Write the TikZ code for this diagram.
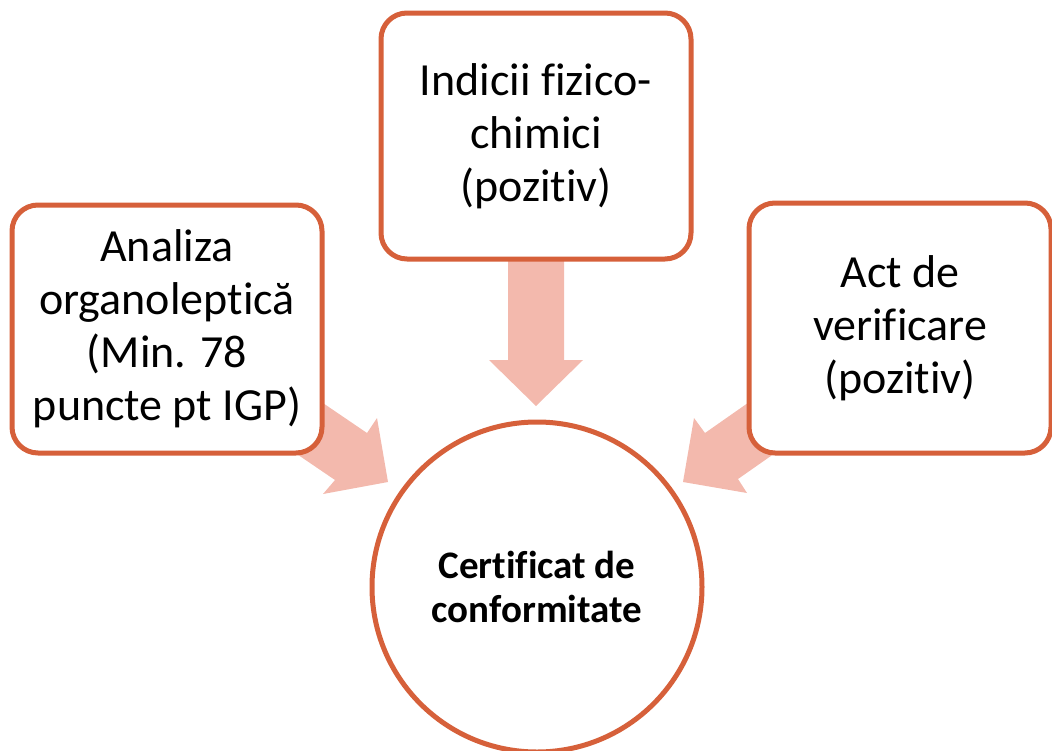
\documentclass[tikz,border=0pt]{standalone}
\usepackage{fontspec}
\setmainfont{Carlito}[Ligatures=NoCommon]
\definecolor{edge}{RGB}{214,96,58}
\definecolor{arrowfill}{RGB}{243,185,173}
\tikzset{
  boxnode/.style={draw=edge, line width=5pt, fill=white, rounded corners=26pt,
    align=center, inner sep=0pt, font=\fontsize{46}{53}\selectfont},
  hubnode/.style={draw=edge, line width=5pt, fill=white, circle, inner sep=0pt,
    minimum size=330pt, align=center, font=\fontsize{39}{44}\selectfont\bfseries},
  blockarrow/.style={fill=arrowfill, draw=none}
}
\begin{document}
\begin{tikzpicture}[x=1pt,y=-1pt]
\useasboundingbox (0,0) rectangle (1052,750);
% block arrows (beneath the boxes)
\fill[blockarrow] (508,250) -- (564,250) -- (564,360) -- (583,360) -- (536,406) -- (489,360) -- (508,360) -- cycle;
\fill[blockarrow] (317,399) -- (367,433) -- (377,418) -- (388,482) -- (323,494) -- (335,480) -- (285,446) -- cycle;
\fill[blockarrow] (755,398) -- (705,433) -- (694,418) -- (683,482) -- (747,493) -- (738,479) -- (788,444) -- cycle;
% boxes
\node[boxnode, minimum width=310pt, minimum height=246pt] (top) at (536,136) {Indicii fizico-\\chimici\\(pozitiv)};
\node[boxnode, minimum width=310pt, minimum height=248pt] (left) at (167,329) {Analiza\\organoleptică\\(Min. 78\\puncte pt IGP)};
\node[boxnode, minimum width=302pt, minimum height=250pt] (right) at (900,328) {Act de\\verificare\\(pozitiv)};
\node[hubnode] (hub) at (537,587) {Certificat de\\conformitate};
\end{tikzpicture}
\end{document}
